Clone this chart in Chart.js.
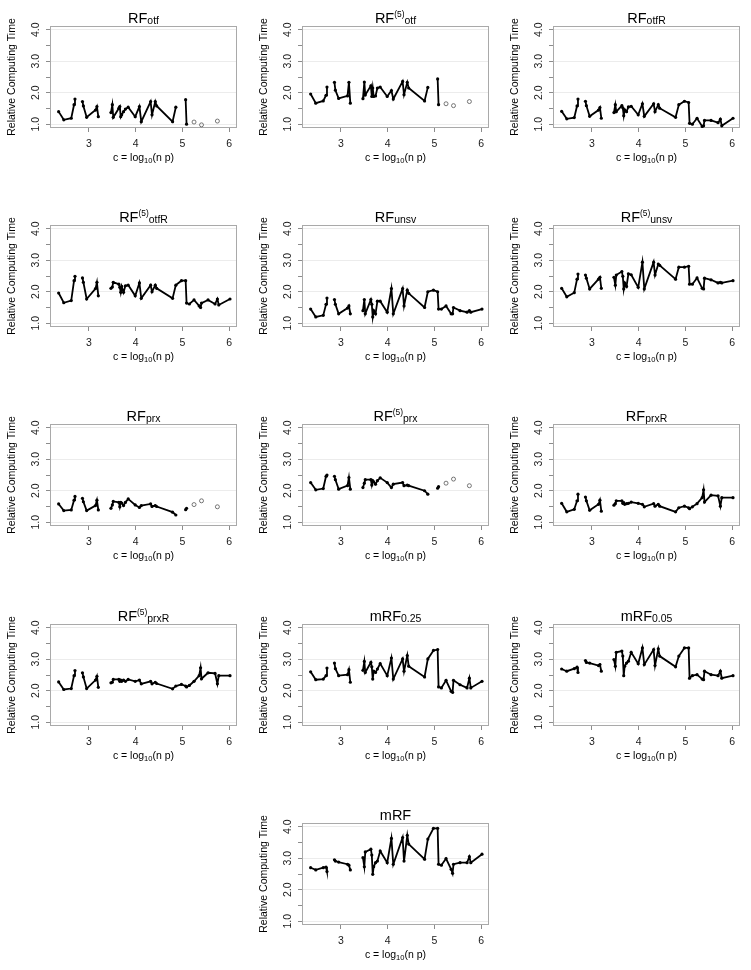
<!DOCTYPE html>
<html>
<head>
<meta charset="utf-8">
<script src="https://cdn.jsdelivr.net/npm/chart.js@4.4.1/dist/chart.umd.min.js"></script>
<style>
  body { margin: 0; background: #fff; width: 751px; height: 970px; position: relative; overflow: hidden; }
  canvas { position: absolute; }
</style>
</head>
<body>
<script>
// shared c = log10(n p) positions, line breaks after these indices
const cValues = [2.35, 2.46, 2.62, 2.68, 2.70, 2.86, 2.88, 2.95, 3.14, 3.17, 3.20, 3.47, 3.50, 3.52,
  3.64, 3.66, 3.68, 3.70, 3.74, 3.78, 3.84, 3.99, 4.08, 4.12, 4.32, 4.35, 4.42, 4.45, 4.79, 4.86, 4.98,
  5.07, 5.09, 5.15, 5.25, 5.36, 5.39, 5.41, 5.55, 5.70, 5.75, 5.78, 6.02];
const gapAfter = [4, 10];

const rfOtf = [1.40, 1.14, 1.19, 1.62, 1.80, 1.72, 1.58, 1.22, 1.45, 1.56, 1.24, 1.37, 1.62, 1.22,
  1.51, 1.56, 1.24, 1.30, 1.40, 1.48, 1.54, 1.24, 1.56, 1.08, 1.72, 1.30, 1.72, 1.58, 1.08, 1.54, null,
  1.78, 1.00, null, null, null, null, null, null, null, null, null, null];
const rf5Otf = [1.96, 1.67, 1.74, 1.92, 2.18, 2.33, 2.08, 1.82, 1.90, 2.33, 1.67, 1.81, 2.34, 1.93,
  2.22, 1.88, 2.15, 1.88, 1.90, 2.15, 2.18, 1.88, 2.07, 1.80, 2.36, 1.94, 2.33, 2.15, 1.74, 2.17, null,
  2.44, 1.62, null, null, null, null, null, null, null, null, null, null];
const rfOtfR = [1.41, 1.17, 1.21, 1.58, 1.80, 1.73, 1.59, 1.25, 1.45, 1.53, 1.19, 1.37, 1.62, 1.40,
  1.59, 1.52, 1.27, 1.46, 1.40, 1.55, 1.57, 1.30, 1.65, 1.25, 1.65, 1.40, 1.62, 1.51, 1.22, 1.62, 1.73,
  1.69, 1.03, 1.00, 1.19, 0.93, 0.95, 1.12, 1.12, 1.05, 1.16, 0.95, 1.19];
const rf5OtfR = [1.96, 1.65, 1.72, 2.35, 2.49, 2.44, 2.30, 1.77, 2.10, 2.30, 1.87, 2.11, 2.15, 2.30,
  2.24, 2.14, 1.98, 2.17, 1.98, 2.19, 2.21, 1.87, 2.28, 1.79, 2.21, 2.00, 2.21, 2.11, 1.79, 2.21, 2.35,
  2.35, 1.64, 1.61, 1.74, 1.55, 1.50, 1.64, 1.74, 1.61, 1.77, 1.58, 1.77];
const rfUnsv = [1.45, 1.20, 1.25, 1.60, 1.80, 1.75, 1.60, 1.30, 1.48, 1.55, 1.30, 1.40, 1.75, 1.30,
  1.75, 1.60, 1.20, 1.40, 1.30, 1.70, 1.70, 1.35, 2.10, 1.30, 2.10, 1.55, 2.05, 1.95, 1.50, 2.00, 2.05,
  2.00, 1.45, 1.45, 1.55, 1.30, 1.30, 1.50, 1.40, 1.35, 1.40, 1.35, 1.45];
const rf5Unsv = [2.11, 1.84, 1.97, 2.40, 2.56, 2.53, 2.43, 2.09, 2.40, 2.46, 2.11, 2.46, 2.21, 2.53,
  2.64, 2.49, 2.09, 2.28, 2.17, 2.57, 2.54, 2.14, 2.94, 2.09, 2.94, 2.53, 2.88, 2.84, 2.40, 2.78, 2.78,
  2.81, 2.24, 2.24, 2.44, 2.11, 2.09, 2.43, 2.38, 2.28, 2.30, 2.28, 2.35];
const rfPrx = [1.58, 1.37, 1.39, 1.70, 1.82, 1.76, 1.65, 1.37, 1.53, 1.70, 1.39, 1.44, 1.55, 1.66,
  1.63, 1.49, 1.63, 1.61, 1.53, 1.63, 1.74, 1.55, 1.47, 1.53, 1.58, 1.50, 1.53, 1.50, 1.32, 1.23, null,
  1.40, 1.44, null, null, null, null, null, null, null, null, null, null];
const rf5Prx = [2.26, 2.03, 2.07, 2.46, 2.50, 2.46, 2.35, 2.05, 2.16, 2.42, 2.05, 2.10, 2.24, 2.35,
  2.35, 2.18, 2.32, 2.28, 2.21, 2.32, 2.41, 2.26, 2.10, 2.21, 2.26, 2.16, 2.18, 2.16, 2.00, 1.89, null,
  2.08, 2.13, null, null, null, null, null, null, null, null, null, null];
const rfPrxR = [1.60, 1.33, 1.41, 1.68, 1.89, 1.80, 1.68, 1.38, 1.57, 1.70, 1.35, 1.54, 1.59, 1.68,
  1.68, 1.60, 1.62, 1.57, 1.59, 1.60, 1.64, 1.60, 1.57, 1.49, 1.59, 1.51, 1.57, 1.51, 1.33, 1.46, 1.51,
  1.46, 1.43, 1.49, 1.59, 1.78, 2.03, 1.64, 1.86, 1.84, 1.51, 1.78, 1.78];
const rf5PrxR = [2.28, 2.04, 2.07, 2.48, 2.64, 2.57, 2.44, 2.07, 2.34, 2.46, 2.11, 2.25, 2.27, 2.36,
  2.36, 2.30, 2.34, 2.30, 2.34, 2.30, 2.36, 2.30, 2.34, 2.22, 2.30, 2.22, 2.27, 2.23, 2.06, 2.15, 2.20,
  2.15, 2.12, 2.17, 2.30, 2.48, 2.73, 2.38, 2.57, 2.55, 2.22, 2.48, 2.48];
const mRf025 = [2.60, 2.35, 2.37, 2.48, 2.72, 2.88, 2.70, 2.48, 2.51, 2.67, 2.27, 2.65, 2.93, 2.58,
  2.90, 2.76, 2.37, 2.62, 2.58, 2.69, 2.86, 2.48, 3.04, 2.37, 3.01, 2.62, 3.12, 2.78, 2.44, 3.01, 3.28,
  3.31, 2.12, 2.09, 2.33, 1.98, 1.95, 2.33, 2.19, 2.09, 2.40, 2.09, 2.30];
const mRf005 = [2.69, 2.62, 2.70, 2.75, 2.58, 2.96, 2.90, 2.88, 2.80, 2.83, 2.62, 2.99, 2.78, 3.22,
  3.26, 3.10, 2.48, 2.78, 2.88, 2.94, 3.22, 2.86, 3.36, 2.83, 3.31, 2.80, 3.33, 3.10, 2.76, 3.10, 3.36,
  3.36, 2.40, 2.48, 2.51, 2.37, 2.35, 2.62, 2.51, 2.48, 2.62, 2.40, 2.48];
const mRf = [2.70, 2.63, 2.70, 2.72, 2.58, 2.95, 2.91, 2.88, 2.81, 2.78, 2.63, 3.02, 2.73, 3.20,
  3.29, 3.10, 2.49, 2.73, 2.86, 2.91, 3.23, 2.86, 3.63, 2.81, 3.66, 2.91, 3.73, 3.45, 2.97, 3.61, 3.95,
  3.95, 2.81, 2.78, 2.99, 2.65, 2.52, 2.81, 2.86, 2.86, 3.05, 2.86, 3.13];

// unconnected open circles
const openC = [5.25, 5.41, 5.75];
const openOtf = [1.07, 0.98, 1.10];
const open5Otf = [1.65, 1.59, 1.72];
const openPrx = [1.56, 1.68, 1.49];
const open5Prx = [2.24, 2.37, 2.16];

const xTicks = [3, 4, 5, 6];
const yTicks = [1, 1.5, 2, 2.5, 3, 3.5, 4];

const panels = [
  { title: ['RF', '_otf'], y: rfOtf, open: openOtf },
  { title: ['RF', '^(5)', '_otf'], y: rf5Otf, open: open5Otf },
  { title: ['RF', '_otfR'], y: rfOtfR },
  { title: ['RF', '^(5)', '_otfR'], y: rf5OtfR },
  { title: ['RF', '_unsv'], y: rfUnsv },
  { title: ['RF', '^(5)', '_unsv'], y: rf5Unsv },
  { title: ['RF', '_prx'], y: rfPrx, open: openPrx },
  { title: ['RF', '^(5)', '_prx'], y: rf5Prx, open: open5Prx },
  { title: ['RF', '_prxR'], y: rfPrxR },
  { title: ['RF', '^(5)', '_prxR'], y: rf5PrxR },
  { title: ['mRF', '_0.25'], y: mRf025 },
  { title: ['mRF', '_0.05'], y: mRf005 },
  { title: ['mRF'], y: mRf }
];

const colLeft = [50, 302, 553];
const rowTop = [26, 225, 424, 624, 823];
const FONT = '"Liberation Sans", Arial, Helvetica, sans-serif';
Chart.defaults.font.family = FONT;

function drawRich(ctx, parts, cx, baseY, size, subDrop) {
  const spec = t => t[0] === '^' ? { s: size * 0.58, dy: -size * 0.45, t: t.slice(1) }
    : t[0] === '_' ? { s: size * 0.72, dy: subDrop, t: t.slice(1) } : { s: size, dy: 0, t: t };
  let total = 0;
  parts.forEach(p => { const s = spec(p); ctx.font = s.s + 'px ' + FONT; total += ctx.measureText(s.t).width; });
  let x = cx - total / 2;
  ctx.textAlign = 'left';
  ctx.textBaseline = 'alphabetic';
  ctx.fillStyle = '#000';
  parts.forEach(p => {
    const s = spec(p);
    ctx.font = s.s + 'px ' + FONT;
    ctx.fillText(s.t, x, baseY + s.dy);
    x += ctx.measureText(s.t).width;
  });
}

const panelDecor = {
  id: 'panelDecor',
  beforeDatasetsDraw(chart) {
    const { ctx, chartArea: a } = chart;
    ctx.save();
    ctx.strokeStyle = '#a9a9a9';
    ctx.lineWidth = 1;
    ctx.strokeRect(a.left + 0.5, a.top + 0.5, a.width - 1, a.height - 1);
    ctx.restore();
  },
  afterDraw(chart, args, opts) {
    const { ctx, chartArea: a } = chart;
    const cx = (a.left + a.right) / 2;
    ctx.save();
    drawRich(ctx, opts.title, cx, a.top - 2.6, 14.5, 1.0);
    drawRich(ctx, ['c = log', '_10', '(n p)'], cx, a.bottom + 33, 10.5, 2.3);
    ctx.restore();
  }
};

function toPoints(ys) {
  const pts = [];
  cValues.forEach((c, i) => {
    pts.push({ x: c, y: ys[i] });
    if (gapAfter.includes(i)) pts.push({ x: (c + cValues[i + 1]) / 2, y: null });
  });
  return pts;
}

panels.forEach((p, i) => {
  const row = i < 12 ? Math.floor(i / 3) : 4;
  const col = i < 12 ? i % 3 : 1;
  const canvas = document.createElement('canvas');
  canvas.width = 248;
  canvas.height = 172;
  canvas.style.left = (colLeft[col] - 50) + 'px';
  canvas.style.top = (rowTop[row] - 26) + 'px';
  document.body.appendChild(canvas);

  const datasets = [{
    data: toPoints(p.y),
    borderColor: '#000',
    borderWidth: 1.8,
    pointRadius: 1.6,
    pointBackgroundColor: '#000',
    pointBorderWidth: 0,
    tension: 0,
    spanGaps: false
  }];
  if (p.open) {
    datasets.push({
      data: openC.map((c, k) => ({ x: c, y: p.open[k] })),
      showLine: false,
      pointRadius: 2,
      pointBorderColor: '#555',
      pointBorderWidth: 0.8,
      pointBackgroundColor: 'rgba(0,0,0,0)'
    });
  }

  new Chart(canvas, {
    type: 'line',
    data: { datasets },
    plugins: [panelDecor],
    options: {
      responsive: false,
      animation: false,
      devicePixelRatio: 1,
      layout: { padding: { left: 0, top: 26, right: 11, bottom: 4 } },
      plugins: {
        legend: { display: false },
        tooltip: { enabled: false },
        panelDecor: { title: p.title }
      },
      scales: {
        x: {
          type: 'linear',
          min: 2.165,
          max: 6.17,
          afterBuildTicks: s => { s.ticks = xTicks.map(v => ({ value: v })); },
          afterFit: s => { s.height = 40; },
          border: { display: false },
          grid: { drawOnChartArea: false, tickLength: 4, tickColor: '#8c8c8c' },
          ticks: { autoSkip: false, maxRotation: 0, padding: 6, color: '#1a1a1a', font: { size: 10.5 },
            callback: v => String(v) }
        },
        y: {
          type: 'linear',
          min: 0.88,
          max: 4.12,
          afterBuildTicks: s => { s.ticks = yTicks.map(v => ({ value: v })); },
          afterFit: s => { s.width = 50; },
          border: { display: false },
          grid: {
            color: c => (c.tick && Number.isInteger(c.tick.value)) ? '#ececec' : 'rgba(0,0,0,0)',
            tickColor: '#8c8c8c',
            tickLength: 4
          },
          ticks: { autoSkip: false, minRotation: 90, maxRotation: 90, crossAlign: 'center', padding: 3,
            color: '#1a1a1a', font: { size: 10.5 },
            callback: v => Number.isInteger(v) ? v.toFixed(1) : '' },
          title: { display: true, text: 'Relative Computing Time', color: '#000', font: { size: 10.5 },
            padding: { top: 5.5, bottom: 0 } }
        }
      }
    }
  });
});
</script>
</body>
</html>
